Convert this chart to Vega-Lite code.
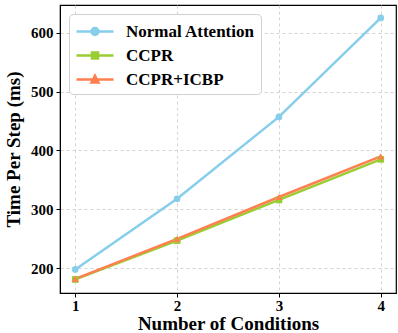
{
  "$schema": "https://vega.github.io/schema/vega-lite/v6.json",
  "width": 336,
  "height": 288,
  "autosize": "none",
  "padding": {"left": 60, "top": 5, "right": 2, "bottom": 40},
  "background": "white",
  "config": {
    "font": "Liberation Serif",
    "view": {"stroke": "black", "strokeWidth": 1.2},
    "axis": {
      "labelFont": "Liberation Serif", "labelFontWeight": "bold", "labelFontSize": 15, "labelColor": "black",
      "titleFont": "Liberation Serif", "titleFontWeight": "bold", "titleFontSize": 19, "titleColor": "black",
      "domainColor": "black", "tickColor": "black", "tickSize": 4, "labelPadding": 3,
      "gridColor": "#c8c8c8", "gridDash": [3, 3], "gridWidth": 0.8
    }
  },
  "data": {"values": [
    {"n": 1, "method": "Normal Attention", "t": 198},
    {"n": 2, "method": "Normal Attention", "t": 318},
    {"n": 3, "method": "Normal Attention", "t": 457},
    {"n": 4, "method": "Normal Attention", "t": 625},
    {"n": 1, "method": "CCPR", "t": 181},
    {"n": 2, "method": "CCPR", "t": 247},
    {"n": 3, "method": "CCPR", "t": 316},
    {"n": 4, "method": "CCPR", "t": 385},
    {"n": 1, "method": "CCPR+ICBP", "t": 182},
    {"n": 2, "method": "CCPR+ICBP", "t": 250},
    {"n": 3, "method": "CCPR+ICBP", "t": 321},
    {"n": 4, "method": "CCPR+ICBP", "t": 390}
  ]},
  "encoding": {
    "x": {"field": "n", "type": "quantitative", "title": "Number of Conditions",
      "scale": {"domain": [0.85, 4.15], "nice": false, "zero": false},
      "axis": {"values": [1, 2, 3, 4], "format": "d", "titlePadding": 1, "labelPadding": 1}},
    "y": {"field": "t", "type": "quantitative", "title": "Time Per Step (ms)",
      "scale": {"domain": [158, 647], "nice": false, "zero": false},
      "axis": {"values": [200, 300, 400, 500, 600], "titlePadding": 7}},
    "color": {"field": "method", "type": "nominal",
      "scale": {"domain": ["Normal Attention", "CCPR", "CCPR+ICBP"], "range": ["#87CEEB", "#9ACD32", "#FF7F50"]},
      "legend": {
        "title": null, "orient": "top-left", "offset": 9,
        "fillColor": "white", "strokeColor": "#d0d0d0", "cornerRadius": 4, "padding": 6,
        "labelFont": "Liberation Serif", "labelFontWeight": "bold", "labelFontSize": 17, "labelColor": "black",
        "symbolSize": 400, "rowPadding": 4, "labelOffset": 28, "symbolStrokeWidth": 2.5,
        "encode": {"symbols": {"update": {
          "shape": {"signal": "datum.value === 'Normal Attention' ? 'M-1,0H2.7M1.2,0A0.35,0.35 0 1 1 0.5,0A0.35,0.35 0 1 1 1.2,0Z' : datum.value === 'CCPR' ? 'M-1,0H2.7M0.55,-0.3H1.15V0.3H0.55Z' : 'M-1,0H2.7M0.85,-0.38L1.2,0.3H0.5Z'"},
          "fill": {"signal": "scale('color', datum.value)"},
          "stroke": {"signal": "scale('color', datum.value)"},
          "fillOpacity": {"value": 1},
          "strokeWidth": {"value": 2.5}
        }}}
      }
    }
  },
  "layer": [
    {"mark": {"type": "line", "strokeWidth": 2.5}},
    {"transform": [{"filter": "datum.method === 'Normal Attention'"}],
      "mark": {"type": "point", "filled": true, "opacity": 1, "size": 45, "shape": "circle"}},
    {"transform": [{"filter": "datum.method === 'CCPR'"}],
      "mark": {"type": "point", "filled": true, "opacity": 1, "size": 45, "shape": "square"}},
    {"transform": [{"filter": "datum.method === 'CCPR+ICBP'"}],
      "mark": {"type": "point", "filled": true, "opacity": 1, "size": 50, "shape": "triangle-up"}}
  ]
}
